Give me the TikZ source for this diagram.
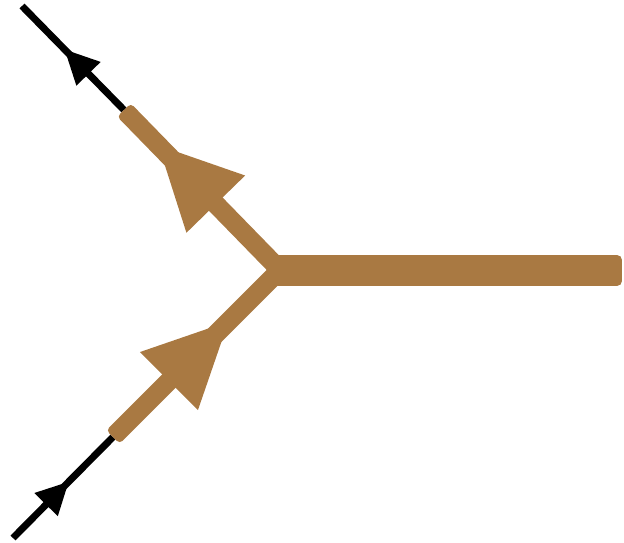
\documentclass[tikz,border=0pt]{standalone}
\usetikzlibrary{calc}
\definecolor{qbrown}{RGB}{169,121,66}
\tikzset{
  blackline/.style={line width=7pt, draw=black, line cap=butt},
  brownbar/.style={fill=qbrown, draw=qbrown, line join=round},
  brownhead/.style={fill=qbrown},
  blackhead/.style={fill=black},
}
% rounded bar from #1 to #2: half width minus radius #3, corner radius #4
\newcommand\qseg[4]{%
  \path ($(#1)!#4!(#2)$) coordinate (qA) ($(#2)!#4!(#1)$) coordinate (qB);
  \filldraw[brownbar, line width=2*#4] ($(qA)!#3!90:(qB)$) -- ($(qB)!#3!-90:(qA)$) -- ($(qB)!#3!90:(qA)$) -- ($(qA)!#3!-90:(qB)$) -- cycle;
}
% triangular arrow head on line #1--#2: apex at distance #3, back at #4, half width #5, style #6
\newcommand\qtri[6]{%
  \path ($(#1)!#3!(#2)$) coordinate (qP) ($(#1)!#4!(#2)$) coordinate (qQ);
  \fill[#6] (qP) -- ($(qQ)!#5!90:(qP)$) -- ($(qQ)!#5!-90:(qP)$) -- cycle;
}
\begin{document}
\begin{tikzpicture}[x=1pt,y=-1pt]
\useasboundingbox (0,0) rectangle (624,543);
\coordinate (v) at (280,270);
\coordinate (vb) at (270,270.5);
\coordinate (r) at (622,270.5);
\coordinate (ue) at (124,110);
\coordinate (le) at (113,437);
\coordinate (ut) at (22,6);
\coordinate (lt) at (13,538);
% black external lines
\draw[blackline] (ut) -- (ue);
\draw[blackline] (lt) -- (le);
\qtri{ut}{ue}{61pt}{95pt}{17pt}{blackhead}
\qtri{lt}{le}{79pt}{47pt}{16.5pt}{blackhead}
% brown lines
\qseg{vb}{r}{10.5pt}{5pt}
\qseg{v}{ue}{5.5pt}{4pt}
\qseg{v}{le}{5.5pt}{4pt}
\qtri{v}{ue}{174pt}{92pt}{41pt}{brownhead}
\qtri{v}{le}{73pt}{157pt}{41pt}{brownhead}
\end{tikzpicture}
\end{document}
